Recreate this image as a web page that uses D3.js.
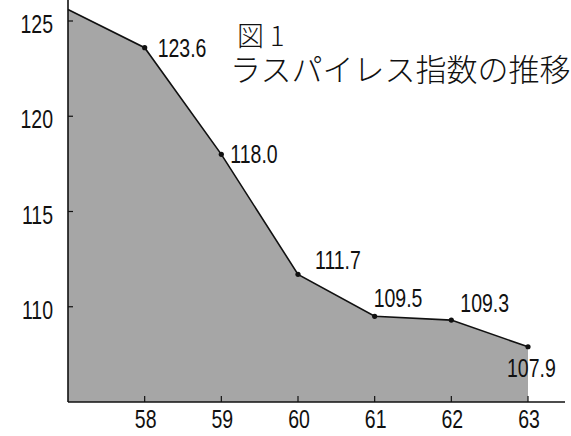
<!DOCTYPE html>
<html>
<head>
<meta charset="utf-8">
<script src="https://cdn.jsdelivr.net/npm/d3@7"></script>
<style>
  body { margin: 0; background: #fff; }
  svg text { font-family: "Liberation Sans", Arial, sans-serif; fill: #111; }
  svg text.title { font-family: "Noto Sans CJK JP", sans-serif; font-weight: 300; }
</style>
</head>
<body>
<div id="chart"></div>
<script>
// data (fiscal years, Showa era)
const years = [57, 58, 59, 60, 61, 62, 63];
const values = [125.6, 123.6, 118.0, 111.7, 109.5, 109.3, 107.9];
const showLabel = [false, true, true, true, true, true, true];
const yTicks = [110, 115, 120, 125];
const xTicks = [58, 59, 60, 61, 62, 63];

const W = 571, H = 436;
const x0 = 68, xEnd = 565, yBase = 402;
const narrow = 0.78; // the numerals in the original are a condensed face

const svg = d3.select("#chart").append("svg")
    .attr("width", W)
    .attr("height", H);

const xScale = d3.scaleLinear()
    .domain([57, 63])
    .range([x0, 528]);

const yScale = d3.scaleLinear()
    .domain([105, 125])
    .range([yBase, 21]);

const pts = years.map((y, i) => ({ year: y, v: values[i], label: showLabel[i] }));

// shaded area
const area = d3.area()
    .x(d => xScale(d.year))
    .y0(yBase)
    .y1(d => yScale(d.v));

svg.append("path")
    .datum(pts)
    .attr("fill", "#a6a6a6")
    .attr("d", area);

// outline
const line = d3.line()
    .x(d => xScale(d.year))
    .y(d => yScale(d.v));

svg.append("path")
    .datum(pts)
    .attr("fill", "none")
    .attr("stroke", "#111")
    .attr("stroke-width", 1.6)
    .attr("d", line);

// axes
svg.append("line")
    .attr("x1", x0).attr("x2", x0)
    .attr("y1", 0).attr("y2", yBase)
    .attr("stroke", "#111").attr("stroke-width", 1.6);

svg.append("line")
    .attr("x1", x0).attr("x2", xEnd)
    .attr("y1", yBase).attr("y2", yBase)
    .attr("stroke", "#111").attr("stroke-width", 1.6);

// y ticks, pointing inward
svg.selectAll(".ytick")
    .data(yTicks)
    .enter()
    .append("line")
    .attr("x1", x0).attr("x2", x0 + 5)
    .attr("y1", d => yScale(d)).attr("y2", d => yScale(d))
    .attr("stroke", "#111").attr("stroke-width", 1.2);

svg.selectAll(".ylab")
    .data(yTicks)
    .enter()
    .append("text")
    .attr("transform", d => `translate(53,${yScale(d) + 12}) scale(${narrow},1)`)
    .attr("text-anchor", "end")
    .attr("font-size", 25)
    .text(d => d);

// x ticks
svg.selectAll(".xtick")
    .data(xTicks)
    .enter()
    .append("line")
    .attr("x1", d => xScale(d)).attr("x2", d => xScale(d))
    .attr("y1", yBase).attr("y2", yBase - 6)
    .attr("stroke", "#111").attr("stroke-width", 1.2);

svg.selectAll(".xlab")
    .data(xTicks)
    .enter()
    .append("text")
    .attr("transform", d => `translate(${xScale(d) + 1},428) scale(${narrow},1)`)
    .attr("text-anchor", "middle")
    .attr("font-size", 25)
    .text(d => d);

// markers
svg.selectAll(".dot")
    .data(pts.filter(d => d.label))
    .enter()
    .append("circle")
    .attr("cx", d => xScale(d.year))
    .attr("cy", d => yScale(d.v))
    .attr("r", 2.6)
    .attr("fill", "#111");

// value labels (offsets to where they sit in the original)
const labelOffset = {
    58: [13, 9], 59: [9, 9], 60: [17, -5], 61: [-1, -9], 62: [9, -8], 63: [-21, 30]
};

svg.selectAll(".vlab")
    .data(pts.filter(d => d.label))
    .enter()
    .append("text")
    .attr("transform", d => `translate(${xScale(d.year) + labelOffset[d.year][0]},${yScale(d.v) + labelOffset[d.year][1]}) scale(${narrow},1)`)
    .attr("font-size", 25)
    .text(d => d.v.toFixed(1));

// title
svg.append("text")
    .attr("class", "title")
    .attr("x", 237)
    .attr("y", 46)
    .attr("font-size", 27)
    .text("図 1");

svg.append("text")
    .attr("class", "title")
    .attr("x", 230)
    .attr("y", 81)
    .attr("font-size", 31)
    .text("ラスパイレス指数の推移");
</script>
</body>
</html>
